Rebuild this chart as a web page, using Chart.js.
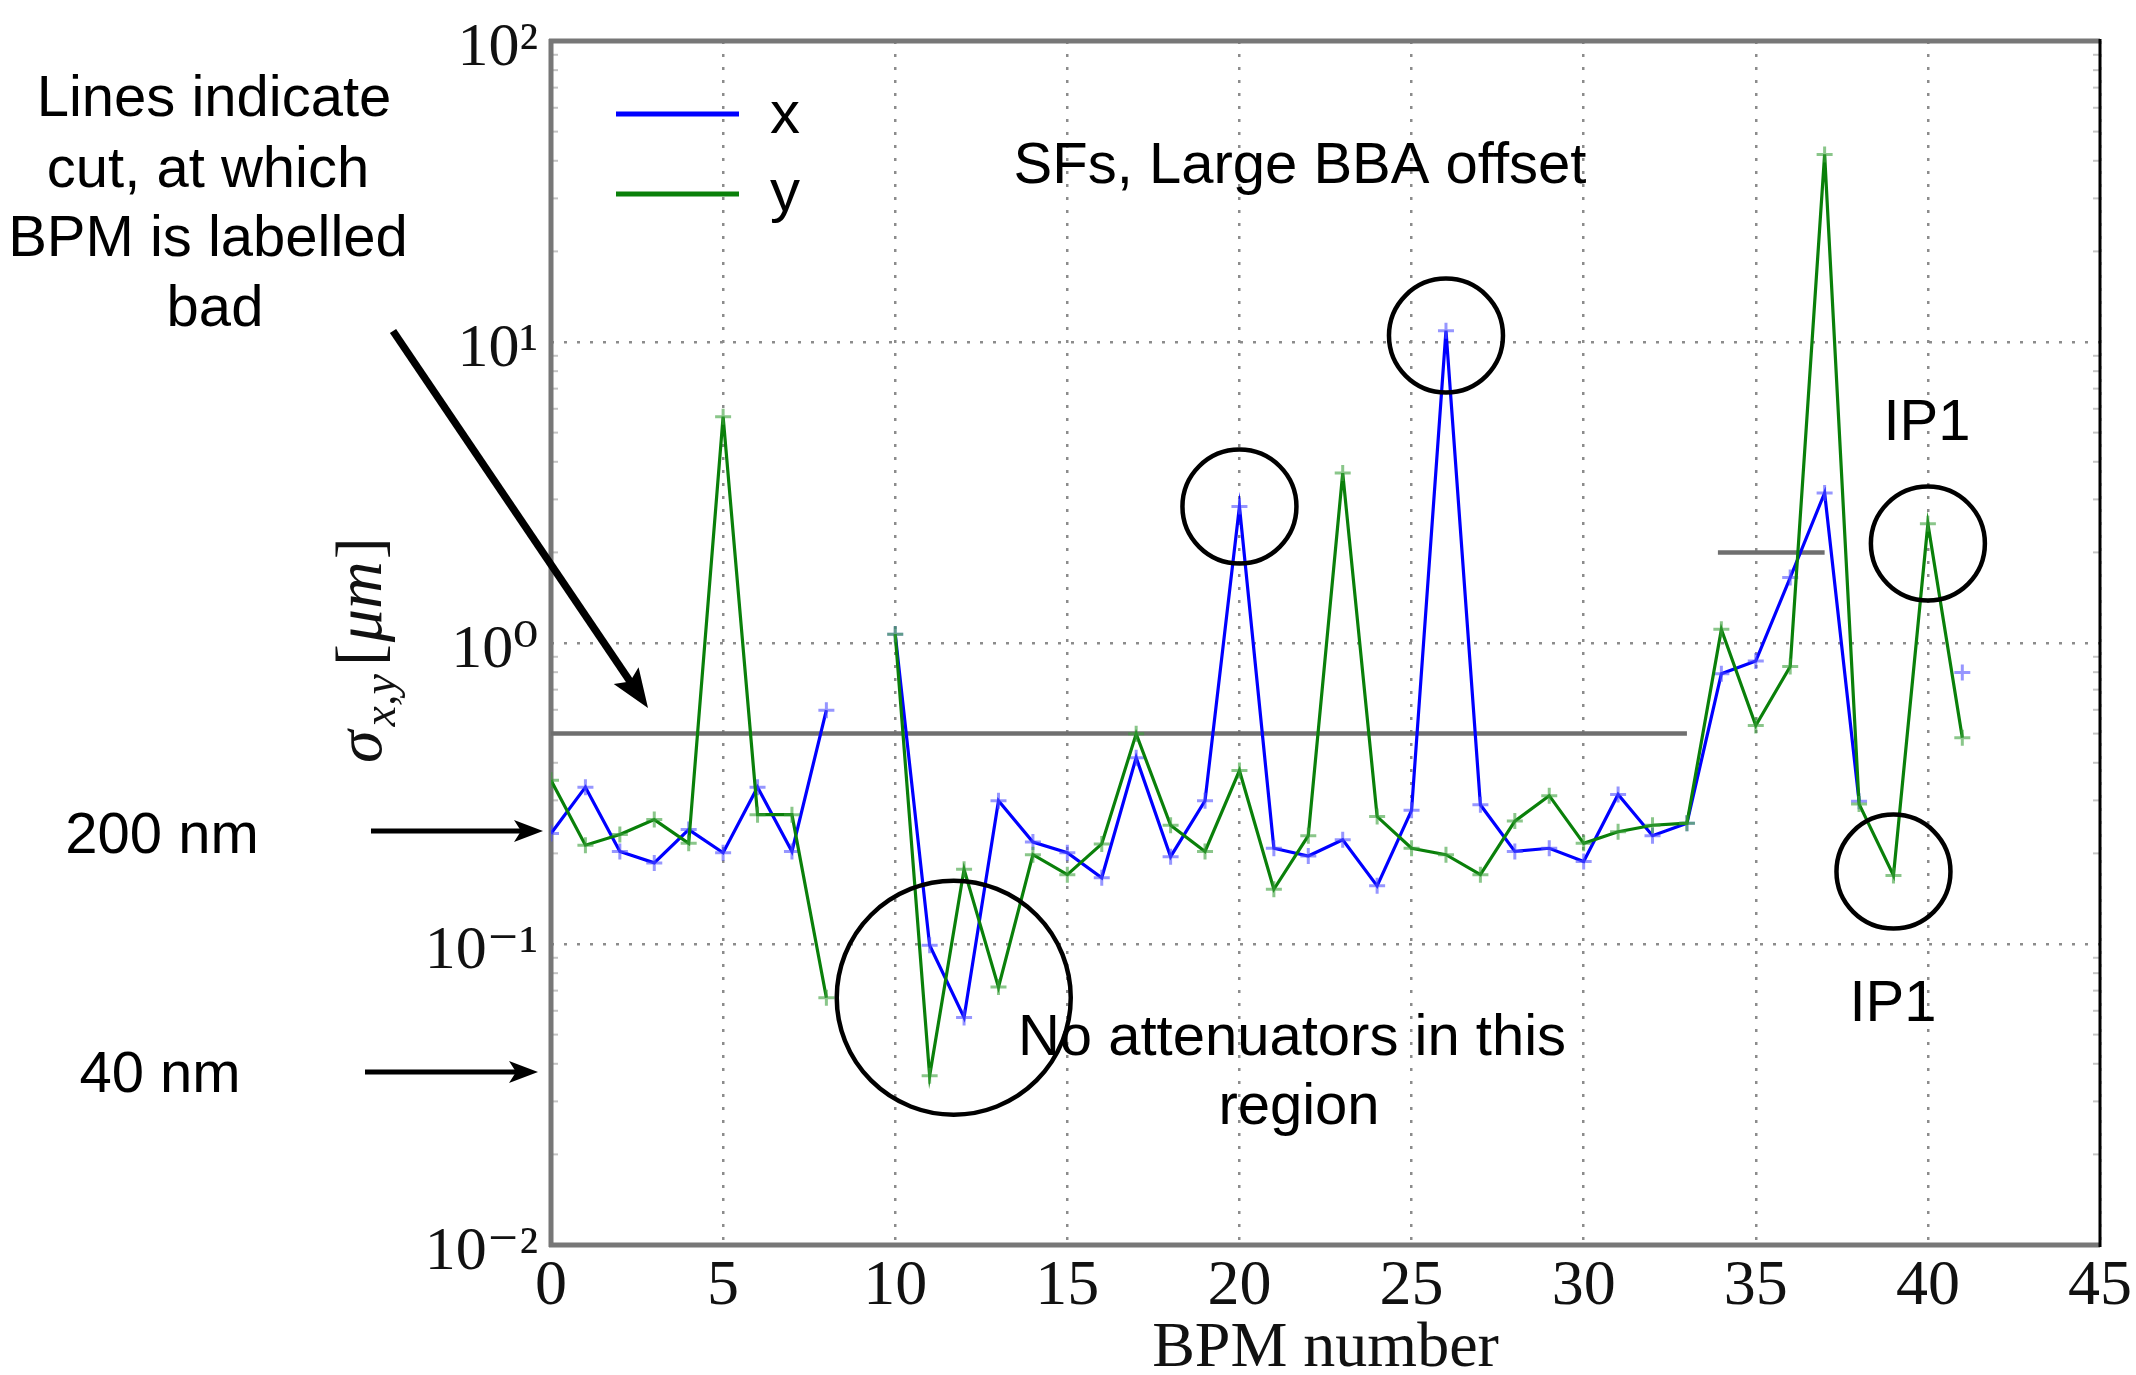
<!DOCTYPE html>
<html>
<head>
<meta charset="utf-8">
<script src="https://cdn.jsdelivr.net/npm/chart.js@4.4.1/dist/chart.umd.min.js"></script>
<style>
html,body{margin:0;padding:0;background:#ffffff;}
canvas{display:block;}
</style>
</head>
<body>
<canvas id="chart" width="2136" height="1375"></canvas>
<script>
// ---------------- data ----------------
const bpmNumbers = [0,1,2,3,4,5,6,7,8,9,10,11,12,13,14,15,16,17,18,19,20,21,22,23,24,25,26,27,28,29,30,31,32,33,34,35,36,37,38,39,40,41];
const sigmaX = [0.233,0.332,0.203,0.186,0.240,0.201,0.332,0.203,0.598,null,
                1.07,0.099,0.057,0.299,0.218,0.201,0.166,0.416,0.195,0.299,
                2.84,0.208,0.196,0.222,0.156,0.278,10.9,0.290,0.203,0.208,
                0.188,0.314,0.229,0.252,0.791,0.871,1.65,3.15,0.298,null,
                null,0.798];
const sigmaY = [0.350,0.213,0.231,0.259,0.216,5.65,0.269,0.269,0.0663,null,
                1.07,0.0365,0.177,0.0719,0.198,0.170,0.215,0.499,0.248,0.203,
                0.377,0.152,0.229,3.67,0.265,0.208,0.198,0.170,0.256,0.311,
                0.216,0.236,0.248,0.252,1.11,0.532,0.835,42.0,0.292,0.169,
                2.49,0.484];
const cutLowBpm = [0, 33];
const cutLowValue = [0.5, 0.5];
const cutHighBpm = [33.9, 37];
const cutHighValue = [2.0, 2.0];
const xTickValues = [0,5,10,15,20,25,30,35,40,45];
const yTickValues = [0.01, 0.1, 1, 10, 100];
const yTickLabels = ['10\u207B\u00B2', '10\u207B\u00B9', '10\u2070', '10\u00B9', '10\u00B2'];
const seriesLabels = ['x', 'y'];

// annotation circles in data units (centre), radius in px
const circleBpm = [20, 26, 40, 39, 11.7];
const circleValue = [2.84, 10.5, 2.14, 0.174, 0.0663];
const circleRadius = [57, 57, 57, 57, 117];

const toPoints = (xs, ys) => xs.map((x, i) => ({x: x, y: ys[i]}));

const SANS = '"Liberation Sans", Arial, sans-serif';
const SERIF = '"Liberation Serif", "DejaVu Serif", serif';

function arrow(ctx, x1, y1, x2, y2, lw, headLen, headHalf) {
  const a = Math.atan2(y2 - y1, x2 - x1);
  const bx = x2 - headLen * Math.cos(a), by = y2 - headLen * Math.sin(a);
  ctx.save();
  ctx.strokeStyle = '#000'; ctx.fillStyle = '#000';
  ctx.lineWidth = lw; ctx.lineCap = 'butt';
  ctx.beginPath(); ctx.moveTo(x1, y1); ctx.lineTo(bx + 4*Math.cos(a), by + 4*Math.sin(a)); ctx.stroke();
  ctx.beginPath();
  ctx.moveTo(x2, y2);
  ctx.lineTo(bx - headHalf * Math.sin(a) - 5*Math.cos(a), by + headHalf * Math.cos(a) - 5*Math.sin(a));
  ctx.lineTo(bx + 2*Math.cos(a), by + 2*Math.sin(a));
  ctx.lineTo(bx + headHalf * Math.sin(a) - 5*Math.cos(a), by - headHalf * Math.cos(a) - 5*Math.sin(a));
  ctx.closePath(); ctx.fill();
  ctx.restore();
}

const annotationPlugin = {
  id: 'annotations',
  beforeDatasetsDraw(chart) {
    const {ctx, chartArea: ca, scales} = chart;
    ctx.save();
    // minor log ticks
    ctx.strokeStyle = '#c4c4c4'; ctx.lineWidth = 2;
    for (let d = -2; d < 2; d++) {
      for (let m = 2; m < 10; m++) {
        const y = scales.y.getPixelForValue(m * Math.pow(10, d));
        ctx.beginPath(); ctx.moveTo(ca.right - 7, y); ctx.lineTo(ca.right, y); ctx.stroke();
        ctx.beginPath(); ctx.moveTo(ca.left, y); ctx.lineTo(ca.left + 7, y); ctx.stroke();
      }
    }
    // frame
    ctx.strokeStyle = '#777777'; ctx.lineWidth = 5;
    ctx.beginPath(); ctx.moveTo(ca.left, ca.top - 2); ctx.lineTo(ca.left, ca.bottom + 2); ctx.stroke();
    ctx.beginPath(); ctx.moveTo(ca.left - 2, ca.bottom); ctx.lineTo(ca.right, ca.bottom); ctx.stroke();
    ctx.beginPath(); ctx.moveTo(ca.left - 2, ca.top); ctx.lineTo(ca.right, ca.top); ctx.stroke();
    ctx.strokeStyle = '#000'; ctx.lineWidth = 3;
    ctx.beginPath(); ctx.moveTo(ca.right, ca.top - 2); ctx.lineTo(ca.right, ca.bottom + 2); ctx.stroke();
    ctx.restore();
  },
  afterDraw(chart) {
    const {ctx, scales} = chart;
    ctx.save();
    // circles
    ctx.strokeStyle = '#000'; ctx.lineWidth = 4.5;
    for (let i = 0; i < circleBpm.length; i++) {
      const cx = scales.x.getPixelForValue(circleBpm[i]);
      const cy = scales.y.getPixelForValue(circleValue[i]);
      ctx.beginPath(); ctx.arc(cx, cy, circleRadius[i], 0, Math.PI * 2); ctx.stroke();
    }
    // legend
    const ds = chart.data.datasets;
    const legendY = [114, 194];
    const legendTextY = [133, 211];
    for (let i = 0; i < 2; i++) {
      ctx.strokeStyle = ds[i].borderColor; ctx.lineWidth = 5;
      ctx.beginPath(); ctx.moveTo(616, legendY[i]); ctx.lineTo(739, legendY[i]); ctx.stroke();
      ctx.fillStyle = '#000'; ctx.font = '60px ' + SANS; ctx.textAlign = 'left'; ctx.textBaseline = 'alphabetic';
      ctx.fillText(ds[i].label, 770, legendTextY[i]);
    }
    // texts
    ctx.fillStyle = '#000'; ctx.textAlign = 'center'; ctx.textBaseline = 'alphabetic';
    ctx.font = '58px ' + SANS;
    ctx.fillText('SFs, Large BBA offset', 1300, 183);
    ctx.fillText('IP1', 1927, 440);
    ctx.fillText('IP1', 1893, 1021);
    ctx.fillText('No attenuators in this', 1292, 1055);
    ctx.fillText('region', 1299, 1124);
    ctx.fillText('Lines indicate', 214, 116);
    ctx.fillText('cut, at which', 208, 187);
    ctx.fillText('BPM is labelled', 208, 256);
    ctx.fillText('bad', 215, 326);
    ctx.fillText('200 nm', 162, 853);
    ctx.fillText('40 nm', 160, 1092);
    // arrows
    arrow(ctx, 371, 831, 543, 831, 5, 24, 11);
    arrow(ctx, 365, 1072, 538, 1072, 5, 24, 11);
    arrow(ctx, 393, 331, 648, 708, 7.5, 34, 15);
    // y axis title  sigma_{x,y} [mu m]
    ctx.save();
    ctx.translate(381, 763);
    ctx.rotate(-Math.PI / 2);
    ctx.fillStyle = '#111'; ctx.textAlign = 'left'; ctx.textBaseline = 'alphabetic';
    let x = 0;
    ctx.font = 'italic 66px ' + SERIF;
    ctx.fillText('\u03C3', x, 0); x += ctx.measureText('\u03C3').width + 4;
    ctx.font = 'italic 46px ' + SERIF;
    ctx.fillText('x,y', x, 14); x += ctx.measureText('x,y').width + 8;
    ctx.font = '66px ' + SERIF;
    ctx.fillText('[', x, 0); x += ctx.measureText('[').width + 2;
    ctx.font = 'italic 66px ' + SERIF;
    ctx.fillText('\u03BCm', x, 0); x += ctx.measureText('\u03BCm').width + 2;
    ctx.font = '66px ' + SERIF;
    ctx.fillText(']', x, 0);
    ctx.restore();
    ctx.restore();
  }
};

const ctx = document.getElementById('chart').getContext('2d');
new Chart(ctx, {
  type: 'line',
  data: {
    datasets: [
      {
        label: seriesLabels[0],
        data: toPoints(bpmNumbers, sigmaX),
        borderColor: '#0000ff', borderWidth: 3.2,
        pointStyle: 'cross', pointRadius: 8, pointBorderWidth: 3,
        pointBorderColor: 'rgba(80,80,255,0.6)', pointBackgroundColor: 'rgba(0,0,0,0)',
        spanGaps: false, tension: 0, fill: false, order: 2
      },
      {
        label: seriesLabels[1],
        data: toPoints(bpmNumbers, sigmaY),
        borderColor: '#0a800a', borderWidth: 3.2,
        pointStyle: 'cross', pointRadius: 8, pointBorderWidth: 3,
        pointBorderColor: 'rgba(60,160,60,0.6)', pointBackgroundColor: 'rgba(0,0,0,0)',
        spanGaps: false, tension: 0, fill: false, order: 1
      },
      {
        label: 'cut',
        data: toPoints(cutLowBpm, cutLowValue),
        borderColor: '#6f6f6f', borderWidth: 4.5, pointRadius: 0, order: 3
      },
      {
        label: 'cut2',
        data: toPoints(cutHighBpm, cutHighValue),
        borderColor: '#6f6f6f', borderWidth: 4.5, pointRadius: 0, order: 3
      }
    ]
  },
  options: {
    responsive: false,
    animation: false,
    devicePixelRatio: 1,
    layout: {padding: {left: 0, right: 36, top: 41, bottom: 0}},
    plugins: {legend: {display: false}, tooltip: {enabled: false}},
    scales: {
      x: {
        type: 'linear', min: 0, max: 45,
        afterBuildTicks(s) { s.ticks = xTickValues.map(v => ({value: v})); },
        afterFit(s) { s.height = 130; },
        ticks: {
          font: {family: SERIF, size: 64}, color: '#111', padding: 4,
          maxRotation: 0, autoSkip: false,
          callback: (v) => String(v)
        },
        grid: {color: '#8c8c8c', lineWidth: 2.5, drawTicks: false},
        border: {display: false, dash: [3, 10]},
        title: {
          display: true, text: 'BPM number', color: '#111',
          font: {family: SERIF, size: 64, lineHeight: 0.8},
          padding: {top: 0, bottom: 0}
        }
      },
      y: {
        type: 'logarithmic', min: 0.01, max: 100,
        afterBuildTicks(s) { s.ticks = yTickValues.map(v => ({value: v})); },
        afterFit(s) { s.width = 551; },
        ticks: {
          font: {family: SERIF, size: 62, lineHeight: 0.9}, color: '#111', padding: 13,
          labelOffset: 8, autoSkip: false,
          callback: (v, i) => yTickLabels[i]
        },
        grid: {color: '#8c8c8c', lineWidth: 2.5, drawTicks: false},
        border: {display: false, dash: [3, 10]}
      }
    }
  },
  plugins: [annotationPlugin]
});
</script>
</body>
</html>
